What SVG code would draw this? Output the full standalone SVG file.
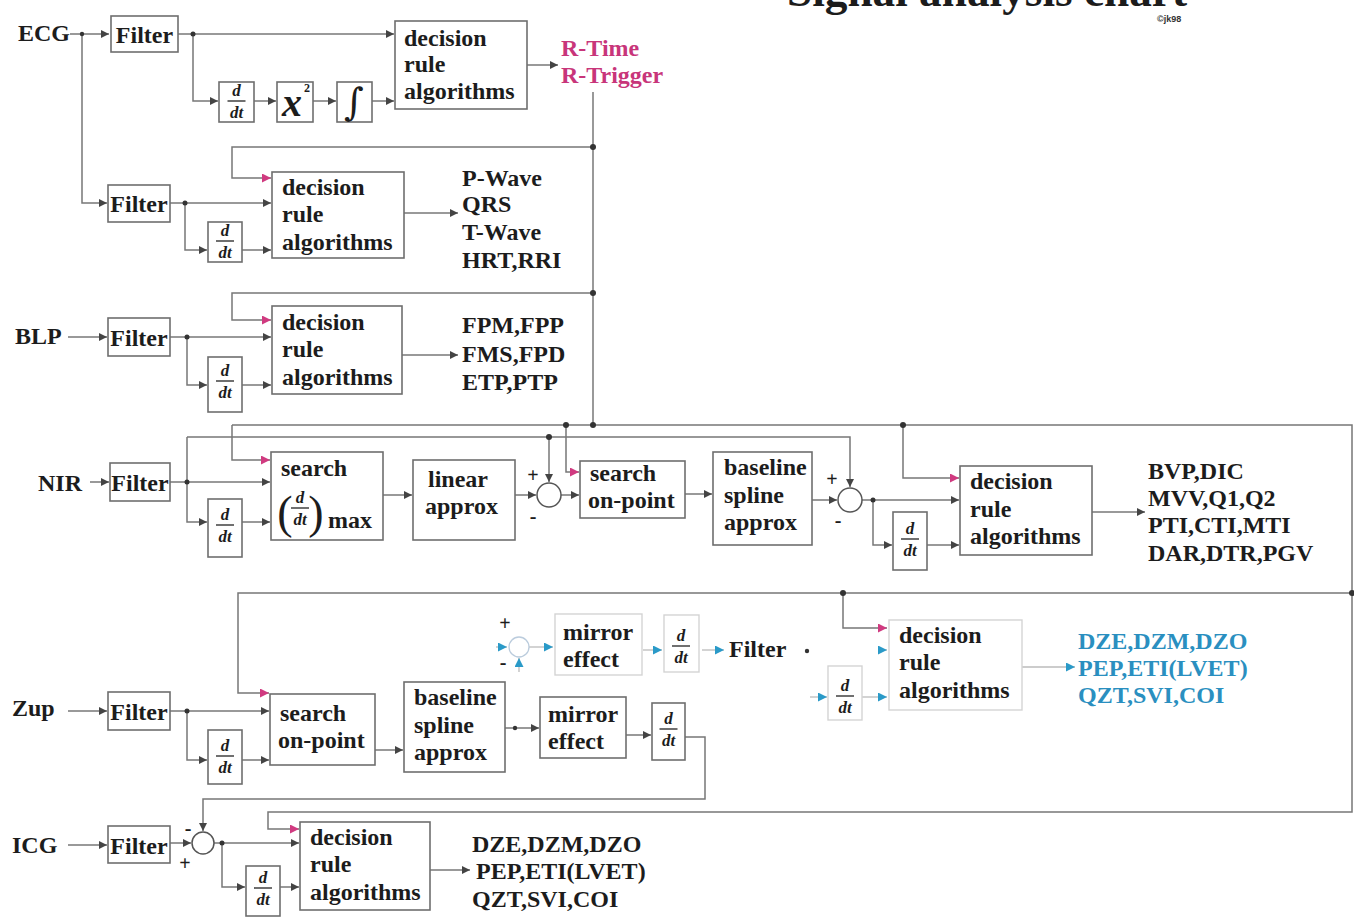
<svg xmlns="http://www.w3.org/2000/svg" width="1354" height="923" viewBox="0 0 1354 923">
<style>
.bx{fill:#fff;stroke:#6e6e6e;stroke-width:1.6}
.fb{fill:none;stroke:#d4d4d4;stroke-width:1.4}
.ln{fill:none;stroke:#777;stroke-width:1.5}
.lf{fill:none;stroke:#bbb;stroke-width:1.3}
.t{font-family:"Liberation Serif","Times New Roman",serif;font-weight:bold;font-size:24px;fill:#1c1c1c}
.pk{fill:#c8357a}
.cy{fill:#2a8fc0}
.it{font-style:italic}
.sm{font-size:17px}
.pm{font-size:20px}
.dot{fill:#333}
</style>
<defs>
<marker id="ah" viewBox="0 0 10 10" refX="10" refY="5" markerWidth="9" markerHeight="8" markerUnits="userSpaceOnUse" orient="auto"><path d="M0,0 L10,5 L0,10 z" fill="#444"/></marker>
<marker id="ap" viewBox="0 0 10 10" refX="10" refY="5" markerWidth="9" markerHeight="9" markerUnits="userSpaceOnUse" orient="auto"><path d="M0,0 L10,5 L0,10 z" fill="#d03a80"/></marker>
<marker id="ac" viewBox="0 0 10 10" refX="10" refY="5" markerWidth="9" markerHeight="9" markerUnits="userSpaceOnUse" orient="auto"><path d="M0,0 L10,5 L0,10 z" fill="#2a9ac8"/></marker>
<g id="ddt">
<text class="t it sm" x="0" y="-4" text-anchor="middle">d</text>
<line x1="-9" y1="1" x2="9" y2="1" stroke="#333" stroke-width="1.4"/>
<text class="t it sm" x="0" y="18" text-anchor="middle">dt</text>
</g>
</defs>

<g id="title">
<text class="t" x="787" y="6" style="font-size:44px" textLength="400" lengthAdjust="spacingAndGlyphs">Signal analysis chart</text>
<text x="1157" y="22" font-family="Liberation Sans, Arial, sans-serif" font-weight="bold" font-size="9" fill="#333">©jk98</text>
</g>

<g id="connectors">
<!-- ECG -->
<path class="ln" d="M70,34 H109" marker-end="url(#ah)"/>
<path class="ln" d="M82,34 V203 H107" marker-end="url(#ah)"/>
<path class="ln" d="M178,34 H394" marker-end="url(#ah)"/>
<path class="ln" d="M193,34 V101 H218" marker-end="url(#ah)"/>
<path class="ln" d="M254,101 H276" marker-end="url(#ah)"/>
<path class="ln" d="M313,101 H336" marker-end="url(#ah)"/>
<path class="ln" d="M372,101 H394" marker-end="url(#ah)"/>
<path class="ln" d="M527,65 H558" marker-end="url(#ah)"/>
<path class="ln" d="M593,92 V425"/>
<!-- ECG 2 -->
<path class="ln" d="M170,203 H271" marker-end="url(#ah)"/>
<path class="ln" d="M185,203 V250 H207" marker-end="url(#ah)"/>
<path class="ln" d="M242,250 H271" marker-end="url(#ah)"/>
<path class="ln" d="M593,147 H232 V178 H271" marker-end="url(#ap)"/>
<path class="ln" d="M404,213 H458" marker-end="url(#ah)"/>
<!-- BLP -->
<path class="ln" d="M68,337 H107" marker-end="url(#ah)"/>
<path class="ln" d="M170,337 H271" marker-end="url(#ah)"/>
<path class="ln" d="M187,337 V385 H207" marker-end="url(#ah)"/>
<path class="ln" d="M242,385 H271" marker-end="url(#ah)"/>
<path class="ln" d="M593,293 H232 V320 H271" marker-end="url(#ap)"/>
<path class="ln" d="M402,355 H458" marker-end="url(#ah)"/>
<!-- big loop -->
<path class="ln" d="M232,425 H1352 V812 H268 V829 H299" marker-end="url(#ap)"/>
<path class="ln" d="M232,425 V460 H270" marker-end="url(#ap)"/>
<path class="ln" d="M566,425 V472 H579" marker-end="url(#ap)"/>
<path class="ln" d="M903,425 V478 H959" marker-end="url(#ap)"/>
<!-- NIR -->
<path class="ln" d="M90,482 H109" marker-end="url(#ah)"/>
<path class="ln" d="M170,482 H270" marker-end="url(#ah)"/>
<path class="ln" d="M187,437 V522 H207" marker-end="url(#ah)"/>
<path class="ln" d="M187,437 H850 V487" marker-end="url(#ah)"/>
<path class="ln" d="M549,437 V482" marker-end="url(#ah)"/>
<path class="ln" d="M242,522 H270" marker-end="url(#ah)"/>
<path class="ln" d="M383,495 H412" marker-end="url(#ah)"/>
<path class="ln" d="M515,495 H536" marker-end="url(#ah)"/>
<path class="ln" d="M561,495 H579" marker-end="url(#ah)"/>
<path class="ln" d="M685,494 H712" marker-end="url(#ah)"/>
<path class="ln" d="M812,500 H837" marker-end="url(#ah)"/>
<path class="ln" d="M862,500 H959" marker-end="url(#ah)"/>
<path class="ln" d="M873,500 V545 H892" marker-end="url(#ah)"/>
<path class="ln" d="M927,545 H959" marker-end="url(#ah)"/>
<path class="ln" d="M1092,512 H1145" marker-end="url(#ah)"/>
<!-- line y 593 -->
<path class="ln" d="M1352,593 H238 V693 H269" marker-end="url(#ap)"/>
<path class="ln" d="M843,593 V628 H887" marker-end="url(#ap)"/>
<!-- cyan section -->
<path class="lf" d="M496,647 H507" marker-end="url(#ac)"/>
<path class="lf" d="M519,672 V658" marker-end="url(#ac)"/>
<path class="lf" d="M529,647 H553" marker-end="url(#ac)"/>
<path class="lf" d="M643,650 H662" marker-end="url(#ac)"/>
<path class="lf" d="M702,650 H724" marker-end="url(#ac)"/>
<path class="lf" d="M810,697 H827" marker-end="url(#ac)"/>
<path class="lf" d="M862,697 H887" marker-end="url(#ac)"/>
<path class="lf" d="M880,650 H887" marker-end="url(#ac)"/>
<path class="lf" d="M1022,667 H1075" marker-end="url(#ac)"/>
<!-- Zup -->
<path class="ln" d="M68,711 H107" marker-end="url(#ah)"/>
<path class="ln" d="M170,711 H269" marker-end="url(#ah)"/>
<path class="ln" d="M187,711 V760 H207" marker-end="url(#ah)"/>
<path class="ln" d="M242,760 H269" marker-end="url(#ah)"/>
<path class="ln" d="M375,750 H403" marker-end="url(#ah)"/>
<path class="ln" d="M505,728 H539" marker-end="url(#ah)"/>
<path class="ln" d="M626,735 H651" marker-end="url(#ah)"/>
<path class="ln" d="M685,737 H705 V799 H203 V831" marker-end="url(#ah)"/>
<!-- ICG -->
<path class="ln" d="M68,845 H107" marker-end="url(#ah)"/>
<path class="ln" d="M170,843 H191" marker-end="url(#ah)"/>
<path class="ln" d="M214,843 H299" marker-end="url(#ah)"/>
<path class="ln" d="M222,843 V887 H245" marker-end="url(#ah)"/>
<path class="ln" d="M280,887 H299" marker-end="url(#ah)"/>
<path class="ln" d="M430,870 H470" marker-end="url(#ah)"/>
<!-- dots -->
<circle class="dot" cx="82" cy="34" r="2.2"/>
<circle class="dot" cx="193" cy="34" r="2.5"/>
<circle class="dot" cx="185" cy="203" r="2.5"/>
<circle class="dot" cx="187" cy="337" r="2.5"/>
<circle class="dot" cx="187" cy="482" r="2.5"/>
<circle class="dot" cx="187" cy="711" r="2.5"/>
<circle class="dot" cx="222" cy="843" r="2.5"/>
<circle class="dot" cx="593" cy="147" r="3"/>
<circle class="dot" cx="593" cy="293" r="3"/>
<circle class="dot" cx="593" cy="425" r="3"/>
<circle class="dot" cx="566" cy="425" r="3"/>
<circle class="dot" cx="903" cy="425" r="3"/>
<circle class="dot" cx="549" cy="437" r="3"/>
<circle class="dot" cx="873" cy="500" r="2.5"/>
<circle class="dot" cx="1352" cy="593" r="3"/>
<circle class="dot" cx="843" cy="593" r="3"/>
<circle class="dot" cx="807" cy="651" r="2.2"/>
<circle class="dot" cx="515" cy="728" r="2.2"/>
</g>

<g id="ecg">
<text class="t" x="18" y="41">ECG</text>
<rect class="bx" x="111" y="16" width="67" height="36"/>
<text class="t" x="144.5" y="43" text-anchor="middle">Filter</text>
<rect class="bx" x="219" y="82" width="35" height="40"/>
<use href="#ddt" x="236.5" y="100"/>
<rect class="bx" x="277" y="82" width="36" height="40"/>
<text class="t it" x="292" y="116" style="font-size:40px" text-anchor="middle">x</text>
<text class="t" x="304" y="92" style="font-size:12px">2</text>
<rect class="bx" x="337" y="82" width="35" height="40"/>
<text x="354" y="115" font-family="DejaVu Serif, serif" style="font-size:38px" text-anchor="middle" fill="#1c1c1c">∫</text>
<rect class="bx" x="395" y="21" width="132" height="88"/>
<text class="t" x="404" y="46">decision</text>
<text class="t" x="404" y="72">rule</text>
<text class="t" x="404" y="99">algorithms</text>
<text class="t pk" x="561" y="56">R-Time</text>
<text class="t pk" x="561" y="83">R-Trigger</text>
</g>

<g id="ecg2">
<rect class="bx" x="108" y="185" width="62" height="37"/>
<text class="t" x="139" y="212" text-anchor="middle">Filter</text>
<rect class="bx" x="208" y="222" width="34" height="40"/>
<use href="#ddt" x="225" y="240"/>
<rect class="bx" x="272" y="172" width="132" height="86"/>
<text class="t" x="282" y="195">decision</text>
<text class="t" x="282" y="222">rule</text>
<text class="t" x="282" y="250">algorithms</text>
<text class="t" x="462" y="186">P-Wave</text>
<text class="t" x="462" y="212">QRS</text>
<text class="t" x="462" y="240">T-Wave</text>
<text class="t" x="462" y="268">HRT,RRI</text>
</g>

<g id="blp">
<text class="t" x="15" y="344">BLP</text>
<rect class="bx" x="108" y="318" width="62" height="38"/>
<text class="t" x="139" y="346" text-anchor="middle">Filter</text>
<rect class="bx" x="208" y="357" width="34" height="55"/>
<use href="#ddt" x="225" y="380"/>
<rect class="bx" x="272" y="306" width="130" height="88"/>
<text class="t" x="282" y="330">decision</text>
<text class="t" x="282" y="357">rule</text>
<text class="t" x="282" y="385">algorithms</text>
<text class="t" x="462" y="333">FPM,FPP</text>
<text class="t" x="462" y="362">FMS,FPD</text>
<text class="t" x="462" y="390">ETP,PTP</text>
</g>

<g id="nir">
<text class="t" x="38" y="491">NIR</text>
<rect class="bx" x="110" y="463" width="60" height="38"/>
<text class="t" x="140" y="491" text-anchor="middle">Filter</text>
<rect class="bx" x="208" y="499" width="34" height="58"/>
<use href="#ddt" x="225" y="524"/>
<rect class="bx" x="271" y="452" width="112" height="88"/>
<text class="t" x="281" y="476">search</text>
<text x="285" y="528" font-family="Liberation Serif, serif" style="font-size:46px" text-anchor="middle" fill="#1c1c1c">(</text>
<use href="#ddt" x="300" y="507"/>
<text x="316" y="528" font-family="Liberation Serif, serif" style="font-size:46px" text-anchor="middle" fill="#1c1c1c">)</text>
<text class="t" x="328" y="528">max</text>
<rect class="bx" x="413" y="460" width="102" height="80"/>
<text class="t" x="428" y="487">linear</text>
<text class="t" x="425" y="514">approx</text>
<circle cx="549" cy="495" r="12" fill="#fff" stroke="#555" stroke-width="1.5"/>
<text class="t pm" x="533" y="482" text-anchor="middle">+</text>
<text class="t pm" x="533" y="523" text-anchor="middle">-</text>
<rect class="bx" x="580" y="461" width="105" height="57"/>
<text class="t" x="590" y="481">search</text>
<text class="t" x="588" y="508">on-point</text>
<rect class="bx" x="713" y="452" width="99" height="93"/>
<text class="t" x="724" y="475">baseline</text>
<text class="t" x="724" y="503">spline</text>
<text class="t" x="724" y="530">approx</text>
<circle cx="850" cy="500" r="12" fill="#fff" stroke="#555" stroke-width="1.5"/>
<text class="t pm" x="832" y="486" text-anchor="middle">+</text>
<text class="t pm" x="838" y="527" text-anchor="middle">-</text>
<rect class="bx" x="893" y="512" width="34" height="58"/>
<use href="#ddt" x="910" y="538"/>
<rect class="bx" x="960" y="466" width="132" height="89"/>
<text class="t" x="970" y="489">decision</text>
<text class="t" x="970" y="517">rule</text>
<text class="t" x="970" y="544">algorithms</text>
<text class="t" x="1148" y="479">BVP,DIC</text>
<text class="t" x="1148" y="506">MVV,Q1,Q2</text>
<text class="t" x="1148" y="533">PTI,CTI,MTI</text>
<text class="t" x="1148" y="561">DAR,DTR,PGV</text>
</g>

<g id="mirror-branch">
<circle cx="519" cy="647" r="10" fill="#fff" stroke="#bcd" stroke-width="1.3"/>
<text class="t pm" x="505" y="630" text-anchor="middle">+</text>
<text class="t pm" x="503" y="669" text-anchor="middle">-</text>
<rect class="fb" x="555" y="614" width="87" height="61"/>
<text class="t" x="563" y="640">mirror</text>
<text class="t" x="563" y="667">effect</text>
<rect class="fb" x="664" y="615" width="35" height="57"/>
<use href="#ddt" x="681" y="645"/>
<text class="t" x="729" y="657">Filter</text>
<rect class="fb" x="828" y="666" width="34" height="54"/>
<use href="#ddt" x="845" y="695"/>
<rect class="fb" x="889" y="620" width="133" height="90"/>
<text class="t" x="899" y="643">decision</text>
<text class="t" x="899" y="670">rule</text>
<text class="t" x="899" y="698">algorithms</text>
<text class="t cy" x="1078" y="649">DZE,DZM,DZO</text>
<text class="t cy" x="1078" y="676">PEP,ETI(LVET)</text>
<text class="t cy" x="1078" y="703">QZT,SVI,COI</text>
</g>

<g id="zup">
<text class="t" x="12" y="716">Zup</text>
<rect class="bx" x="108" y="692" width="62" height="38"/>
<text class="t" x="139" y="720" text-anchor="middle">Filter</text>
<rect class="bx" x="208" y="730" width="34" height="54"/>
<use href="#ddt" x="225" y="755"/>
<rect class="bx" x="270" y="694" width="105" height="71"/>
<text class="t" x="280" y="721">search</text>
<text class="t" x="278" y="748">on-point</text>
<rect class="bx" x="404" y="682" width="101" height="90"/>
<text class="t" x="414" y="705">baseline</text>
<text class="t" x="414" y="733">spline</text>
<text class="t" x="414" y="760">approx</text>
<rect class="bx" x="540" y="697" width="86" height="61"/>
<text class="t" x="548" y="722">mirror</text>
<text class="t" x="548" y="749">effect</text>
<rect class="bx" x="652" y="703" width="33" height="57"/>
<use href="#ddt" x="668.5" y="728"/>
</g>

<g id="icg">
<text class="t" x="12" y="853">ICG</text>
<rect class="bx" x="108" y="826" width="62" height="37"/>
<text class="t" x="139" y="854" text-anchor="middle">Filter</text>
<circle cx="203" cy="843" r="11" fill="#fff" stroke="#555" stroke-width="1.5"/>
<text class="t pm" x="188" y="835" text-anchor="middle">-</text>
<text class="t pm" x="185" y="870" text-anchor="middle">+</text>
<rect class="bx" x="246" y="866" width="34" height="50"/>
<use href="#ddt" x="263" y="887"/>
<rect class="bx" x="300" y="822" width="130" height="88"/>
<text class="t" x="310" y="845">decision</text>
<text class="t" x="310" y="872">rule</text>
<text class="t" x="310" y="900">algorithms</text>
<text class="t" x="472" y="852">DZE,DZM,DZO</text>
<text class="t" x="476" y="879">PEP,ETI(LVET)</text>
<text class="t" x="472" y="907">QZT,SVI,COI</text>
</g>
</svg>
